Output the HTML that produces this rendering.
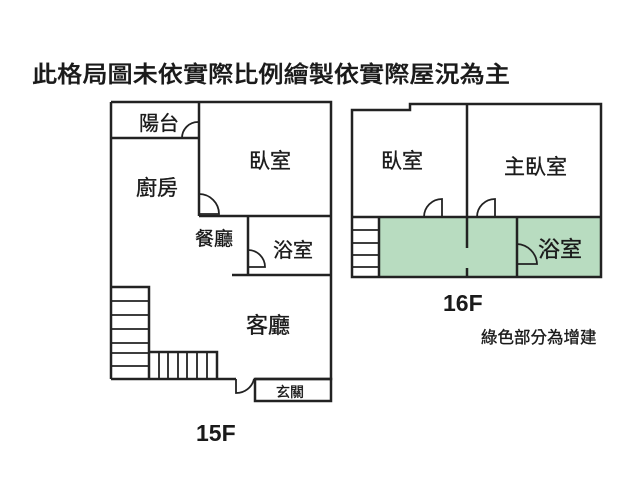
<!DOCTYPE html>
<html><head><meta charset="utf-8"><style>
body{margin:0;background:#fff;}
svg{display:block;}
text{font-family:"Liberation Sans","Noto Sans CJK TC",sans-serif;fill:#1a1a1a;}
.l{stroke:#1a1a1a;stroke-width:0.35;}
</style></head><body>
<svg width="640" height="480" viewBox="0 0 640 480">
<rect width="640" height="480" fill="#fff"/>
<text class="l" x="32" y="82" font-size="23" textLength="478" lengthAdjust="spacingAndGlyphs" font-weight="500">此格局圖未依實際比例繪製依實際屋況為主</text>

<g stroke="#222" stroke-width="2.5" fill="none">
<path d="M111 102 H331 V379 H255 M236 379 H111 Z"/>
<path d="M111 379 V102"/>
<line x1="111" y1="138" x2="199" y2="138"/>
<line x1="199" y1="102" x2="199" y2="216"/>
<line x1="199" y1="216" x2="331" y2="216"/>
<line x1="248" y1="216" x2="248" y2="275"/>
<line x1="232" y1="275" x2="331" y2="275"/>
<rect x="255" y="379" width="76" height="22"/>
<path d="M111 287 H149 V379"/>
<path d="M149 352 H217 V379"/>
</g>
<g stroke="#222" stroke-width="1.8" fill="none">
<line x1="111" y1="301" x2="149" y2="301"/>
<line x1="111" y1="315" x2="149" y2="315"/>
<line x1="111" y1="329" x2="149" y2="329"/>
<line x1="111" y1="343" x2="149" y2="343"/>
<line x1="111" y1="353" x2="149" y2="353"/>
<line x1="111" y1="366" x2="149" y2="366"/>
<line x1="159" y1="352" x2="159" y2="379"/>
<line x1="168" y1="352" x2="168" y2="379"/>
<line x1="178" y1="352" x2="178" y2="379"/>
<line x1="187" y1="352" x2="187" y2="379"/>
<line x1="197" y1="352" x2="197" y2="379"/>
<line x1="207" y1="352" x2="207" y2="379"/>
<path d="M182 138 A16 16 0 0 1 198 122"/>
<path d="M199 194 A20 20 0 0 1 219 214 H199"/>
<path d="M248 250 A17 17 0 0 1 265 267 H248"/>
<path d="M236 379 V393 A18 18 0 0 0 254 379"/>
</g>
<text class="l" x="139" y="130" font-size="20">陽台</text>
<text class="l" x="249" y="168" font-size="21">臥室</text>
<text class="l" x="136" y="195" font-size="21">廚房</text>
<text class="l" x="195" y="245" font-size="19">餐廳</text>
<text class="l" x="273" y="257" font-size="20">浴室</text>
<text class="l" x="246" y="333" font-size="22">客廳</text>
<text class="l" x="276" y="397" font-size="14">玄關</text>
<text x="196" y="441" font-size="23" font-weight="bold">15F</text>

<rect x="379" y="217" width="222" height="60" fill="#b8dcc0"/>
<g stroke="#222" stroke-width="2.5" fill="none">
<path d="M352 277 V110 H410 V104 H601 V277 Z"/>
<line x1="467" y1="104" x2="467" y2="248"/>
<line x1="467" y1="268" x2="467" y2="277"/>
<line x1="352" y1="217" x2="601" y2="217"/>
<line x1="379" y1="217" x2="379" y2="277"/>
<line x1="517" y1="217" x2="517" y2="277"/>
</g>
<g stroke="#222" stroke-width="1.8" fill="none">
<line x1="352" y1="230" x2="379" y2="230"/>
<line x1="352" y1="243" x2="379" y2="243"/>
<line x1="352" y1="255" x2="379" y2="255"/>
<line x1="352" y1="267" x2="379" y2="267"/>
<path d="M424 217 A18 18 0 0 1 442 199 V217"/>
<path d="M477 217 A18 18 0 0 1 495 199 V217"/>
<path d="M517 244 A21 21 0 0 1 537 264 H517"/>
</g>
<text class="l" x="381" y="168" font-size="21">臥室</text>
<text class="l" x="504" y="174" font-size="21">主臥室</text>
<text class="l" x="538" y="257" font-size="22">浴室</text>
<text x="443" y="311" font-size="23" font-weight="bold">16F</text>
<text class="l" x="481" y="343" font-size="16.5">綠色部分為增建</text>
</svg>
</body></html>
